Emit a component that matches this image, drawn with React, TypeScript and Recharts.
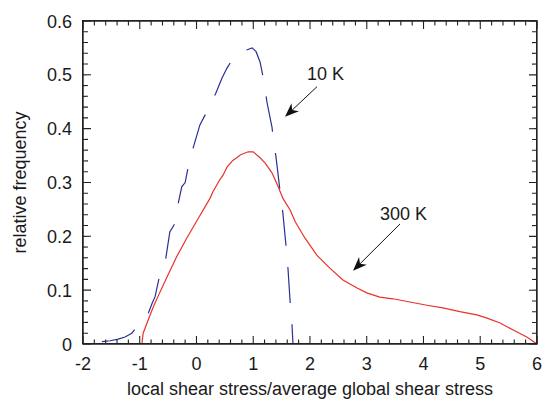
import React from "react";
import { LineChart, Line, XAxis, YAxis, ReferenceLine } from "recharts";

// 300 K curve (red)
const warmX = [-0.96, -0.94, -0.85, -0.76, -0.68, -0.53, -0.35, -0.17, 0.03, 0.24, 0.29, 0.41, 0.47, 0.54, 0.64, 0.71, 0.77, 0.91, 1.0, 1.12, 1.21, 1.33, 1.44, 1.52, 1.65, 1.74, 1.91, 2.12, 2.35, 2.58, 2.83, 3.0, 3.23, 3.46, 3.76, 4.06, 4.34, 4.64, 4.94, 5.12, 5.35, 5.58, 5.82, 6.0];
const warmY = [0.002, 0.02, 0.045, 0.069, 0.088, 0.122, 0.162, 0.197, 0.233, 0.271, 0.283, 0.305, 0.314, 0.329, 0.341, 0.346, 0.351, 0.357, 0.357, 0.346, 0.336, 0.318, 0.292, 0.271, 0.249, 0.227, 0.197, 0.165, 0.141, 0.119, 0.104, 0.095, 0.087, 0.084, 0.078, 0.072, 0.067, 0.06, 0.054, 0.048, 0.039, 0.026, 0.013, 0.0];

// 10 K curve (blue, dashed)
const coldX = [-1.72, -1.52, -1.38, -1.26, -1.14, -1.0, -0.85, -0.78, -0.73, -0.66, -0.54, -0.47, -0.38, -0.32, -0.26, -0.2, -0.15, -0.06, 0.06, 0.17, 0.34, 0.45, 0.54, 0.64, 0.8, 0.98, 1.05, 1.12, 1.19, 1.24, 1.33, 1.35, 1.4, 1.47, 1.52, 1.58, 1.61, 1.65, 1.68, 1.7];
const coldY = [0.004, 0.006, 0.009, 0.013, 0.02, 0.038, 0.057, 0.076, 0.088, 0.122, 0.16, 0.208, 0.224, 0.262, 0.292, 0.3, 0.327, 0.364, 0.407, 0.429, 0.466, 0.494, 0.513, 0.53, 0.543, 0.55, 0.543, 0.524, 0.487, 0.45, 0.403, 0.385, 0.348, 0.286, 0.245, 0.18, 0.143, 0.078, 0.041, 0.0];

const xMajor = [-2, -1, 0, 1, 2, 3, 4, 5, 6];
const yMajor = [0, 0.1, 0.2, 0.3, 0.4, 0.5, 0.6];

const warmData = warmX.map((x, i) => ({ x, y: warmY[i] }));
const coldData = coldX.map((x, i) => ({ x, y: coldY[i] }));

// minor ticks: 5 per major step on both axes
const r2 = (v: number) => Math.round(v * 100) / 100;
const xTicks: number[] = [];
for (let i = 0; i <= 40; i++) xTicks.push(r2(-2 + i * 0.2));
const yTicks: number[] = [];
for (let i = 0; i <= 30; i++) yTicks.push(r2(i * 0.02));

const isXMajor = (v: number) => xMajor.some((m) => Math.abs(m - v) < 1e-6);
const isYMajor = (v: number) => yMajor.some((m) => Math.abs(m - v) < 1e-6);

const X0 = -2, X1 = 6, Y0 = 0, Y1 = 0.6;
// two reference points inside the plot, used to place the frame
const RA = { x: -1, y: 0.1 };
const RB = { x: 5, y: 0.5 };
const FONT = "'Liberation Sans', Arial, Helvetica, sans-serif";
const AXIS = "#222";
const TEXT = "#1a1a1a";

// plot box in page pixels (margin.left + y-axis width, margin.top, ...)
const PLOT = { left: 83, top: 21, right: 537, bottom: 344 };

const BottomLabel = (p: any) => {
  const v = p.payload.value;
  if (!isXMajor(v)) return <g />;
  return (
    <text x={p.x} y={p.y + 26} textAnchor="middle" fontSize={18} fontFamily={FONT} fill={TEXT}>
      {String(v)}
    </text>
  );
};

const LeftLabel = (p: any) => {
  const v = p.payload.value;
  if (!isYMajor(v)) return <g />;
  return (
    <text x={p.x - 11} y={p.y + 6.5} textAnchor="end" fontSize={18} fontFamily={FONT} fill={TEXT}>
      {v === 0 ? "0" : v.toFixed(1)}
    </text>
  );
};

const XTitle = (p: any) => {
  const vb = p.viewBox || { x: 83, width: 454 };
  return (
    <text x={vb.x + vb.width / 2} y={395} textAnchor="middle" fontSize={18} fontFamily={FONT} fill={TEXT}>
      local shear stress/average global shear stress
    </text>
  );
};

const YTitle = (p: any) => {
  const vb = p.viewBox || { y: 21, height: 323 };
  const cy = vb.y + vb.height / 2;
  return (
    <text x={26} y={cy} transform={`rotate(-90 26 ${cy})`} textAnchor="middle" fontSize={18} fontFamily={FONT} fill={TEXT}>
      relative frequency
    </text>
  );
};

// thin quadrilateral from a to b, width w (slightly tapered)
const quad = (ax: number, ay: number, bx: number, by: number, w: number) => {
  const dx = bx - ax;
  const dy = by - ay;
  const l = Math.hypot(dx, dy) || 1;
  const nx = (-dy / l) * (w / 2);
  const ny = (dx / l) * (w / 2);
  return `${ax + nx},${ay + ny} ${bx + nx * 0.9},${by + ny * 0.9} ${bx - nx * 1.1},${by - ny * 1.1} ${ax - nx},${ay - ny}`;
};

// frame with inward ticks on all four sides, placed from two scaled reference points
const FrameShape = (p: any) => {
  const { x1, y1, x2, y2 } = p;
  const sx = (v: number) => x1 + ((v - RA.x) / (RB.x - RA.x)) * (x2 - x1);
  const sy = (v: number) => y1 + ((v - RA.y) / (RB.y - RA.y)) * (y2 - y1);
  const L = sx(X0), R = sx(X1), B = sy(Y0), T = sy(Y1);
  const polys: string[] = [];
  xTicks.forEach((v) => {
    const x = sx(v);
    const len = isXMajor(v) ? 8 : 4.5;
    polys.push(quad(x, B, x, B - len, 1.1), quad(x, T, x, T + len, 1.1));
  });
  yTicks.forEach((v) => {
    const y = sy(v);
    const len = isYMajor(v) ? 8 : 5;
    polys.push(quad(L, y, L + len, y, 1.1), quad(R, y, R - len, y, 1.1));
  });
  polys.push(quad(L - 0.7, B, R + 0.7, B, 1.4), quad(R, B, R, T, 1.4), quad(R + 0.7, T, L - 0.7, T, 1.4), quad(L, T, L, B, 1.4));
  return (
    <g>
      {polys.map((pts, i) => (
        <polygon key={i} points={pts} fill={AXIS} />
      ))}
    </g>
  );
};

const arrowShape = (label: string, dx: number, dy: number) => (p: any) => {
  const { x1, y1, x2, y2 } = p;
  const ang = Math.atan2(y2 - y1, x2 - x1);
  const len = 14;
  const half = 5.5;
  const bx = x2 - len * Math.cos(ang);
  const by = y2 - len * Math.sin(ang);
  const nx = -Math.sin(ang);
  const ny = Math.cos(ang);
  const ix = x2 - len * 0.7 * Math.cos(ang);
  const iy = y2 - len * 0.7 * Math.sin(ang);
  return (
    <g>
      <line x1={x1} y1={y1} x2={ix} y2={iy} stroke="#111" strokeWidth={1} />
      <polygon
        points={`${x2},${y2} ${bx + nx * half},${by + ny * half} ${ix},${iy} ${bx - nx * half},${by - ny * half}`}
        fill="#111"
      />
      <text x={x1 + dx} y={y1 + dy} fontSize={18} fontFamily={FONT} fill={TEXT}>
        {label}
      </text>
    </g>
  );
};

export default function App() {
  return (
    <div style={{ position: "absolute", left: 0, top: 0, width: 542, height: 401, background: "#fff" }}>
      <LineChart width={542} height={401} margin={{ top: 21, right: 5, bottom: 0, left: 0 }}>
        <XAxis
          dataKey="x"
          type="number"
          domain={[X0, X1]}
          ticks={xTicks}
          interval={0}
          allowDataOverflow
          height={57}
          tickSize={0}
          tickMargin={0}
          tickLine={false}
          axisLine={false}
          tick={<BottomLabel />}
          label={<XTitle />}
        />
        <YAxis
          type="number"
          domain={[Y0, Y1]}
          ticks={yTicks}
          interval={0}
          allowDataOverflow
          width={83}
          tickSize={0}
          tickMargin={0}
          tickLine={false}
          axisLine={false}
          tick={<LeftLabel />}
          label={<YTitle />}
        />
        <Line
          data={coldData}
          dataKey="y"
          type="linear"
          stroke="#2b2f96"
          strokeWidth={1.2}
          strokeDasharray="36 21.4"
          strokeDashoffset={-3}
          dot={false}
          isAnimationActive={false}
        />
        <Line
          data={warmData}
          dataKey="y"
          type="linear"
          stroke="#e8322a"
          strokeWidth={1.2}
          dot={false}
          isAnimationActive={false}
        />
        <ReferenceLine segment={[RA, RB]} shape={FrameShape} />
        <ReferenceLine
          segment={[{ x: 2.123, y: 0.478 }, { x: 1.56, y: 0.422 }]}
          shape={arrowShape("10 K", -10, -7)}
        />
        <ReferenceLine
          segment={[{ x: 3.586, y: 0.223 }, { x: 2.758, y: 0.136 }]}
          shape={arrowShape("300 K", -20, -4)}
        />
      </LineChart>
      <div
        style={{
          position: "absolute",
          left: PLOT.left - 0.75,
          top: PLOT.top - 0.75,
          width: PLOT.right - PLOT.left - 1.5,
          height: PLOT.bottom - PLOT.top - 1.5,
          border: `1.5px solid ${AXIS}`,
          pointerEvents: "none",
        }}
      />
    </div>
  );
}
